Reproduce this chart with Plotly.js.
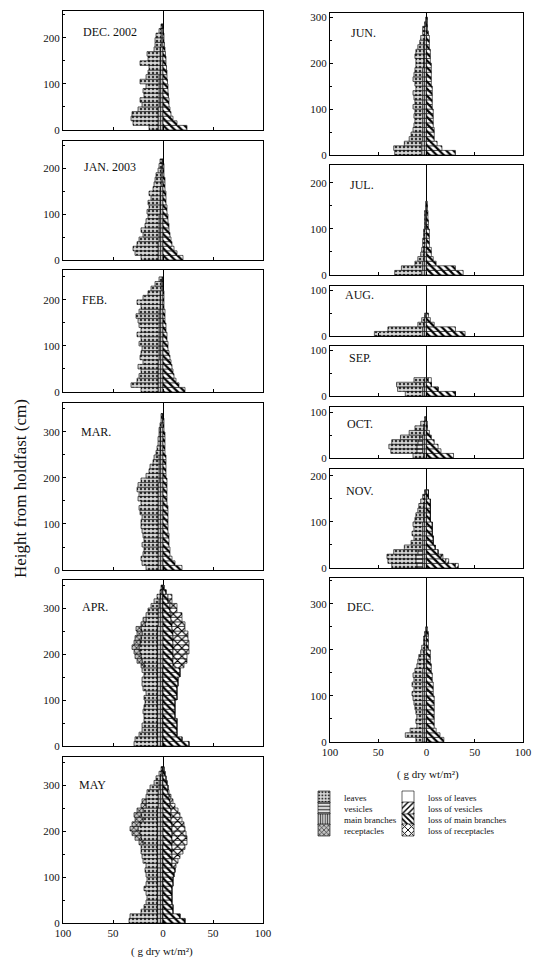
<!DOCTYPE html>
<html><head><meta charset="utf-8">
<script src="https://cdn.plot.ly/plotly-3.0.1.min.js"></script>
<style>html,body{margin:0;padding:0;background:#fff}#chart{width:534px;height:965px}</style>
</head><body><div id="chart"></div>
<script>
// Height classes are 10 cm wide, counted upward from the holdfast.
const BIN = 10;
const monthLabels = ['DEC. 2002','JAN. 2003','FEB.','MAR.','APR.','MAY','JUN.','JUL.','AUG.','SEP.','OCT.','NOV.','DEC.'];
const xTickVals = [-100,-50,0,50,100];
const xTickText = ['100','50','0','50','100'];

// ---- DEC. 2002 ----
const dec02Branches = [5,5,5,5,5,4,4,4,4,4,4,4,3,3,3,3,3,3,2,2,2,2,1];
const dec02Leaves   = [9,25,27,26,20,17,19,15,16,13,19,13,12,11,20,12,13,6,6,6,5,2,1];
const dec02LossBr   = [24,14,10,8,7,6,6,5.5,5,5,4.5,4,4,3.5,3,3,2.5,2,1.5,1,1,0.5,0];
// ---- JAN. 2003 ----
const jan03Branches = [5,5,5,5,4,4,4,4,4,4,3,3,3,3,3,3,2,2,2,2,1,1];
const jan03Leaves   = [17,23,25,21,20,16,18,14,13,11,13,11,12,9,11,7,7,6,5,3,3,2];
const jan03LossBr   = [20,14,11,9,8,7,6,6,5,5,4,4,3,3,3,2,2,2,1,1,1,0];
// ---- FEB. ----
const febBranches = [5,5,5,5,5,5,5,4,4,4,4,4,4,4,4,4,4,4,3,3,3,3,2,2,1];
const febLeaves   = [17,27,21,19,17,20,15,19,18,17,20,18,22,18,20,21,23,20,19,23,17,12,10,6,3];
const febLossBr   = [22,16,13,11,10,9,8,7,6,5,5,4,4,3,3,2,2,2,1,1,1,1,0,0,0];
// ---- MAR. ----
const marBranches = [5,5,5,5,5,5,5,5,5,5,5,5,5,5,5,5,5,5,5,4,4,4,4,4,4,3,3,3,3,3,3,2,2,1];
const marLeaves   = [12,16,17,15,14,16,14,15,16,17,17,16,18,19,17,20,19,21,20,18,13,10,9,6,5,4,3,2,2,1,1,1,0,1];
const marLossBr   = [19,12,9,7,7,6,6,6,5,5,5,5,5,5,4,4,4,4,4,4,3,3,3,3,3,2,2,2,2,2,1,1,1,0];
// ---- APR. ----
const aprBranches = [6,6,6,6,6,6,6,6,6,6,6,6,6,6,6,6,6,6,6,6,6,6,6,6,6,6,5,5,5,5,4,4,3,2,1];
const aprLeaves   = [23,22,18,15,15,13,13,14,13,12,13,11,14,15,15,13,15,13,15,16,17,18,17,16,15,16,13,12,12,10,8,5,3,1,1];
const aprRecept   = [0,0,0,0,0,0,0,0,0,0,0,0,0,0,0,0,0,3,5,6,6,7,6,6,5,5,4,3,0,0,0,0,0,0,0];
const aprLossBr   = [26,19,14,14,14,14,12,12,12,12,14,14,14,15,15,17,17,10,10,10,10,10,10,10,10,9,9,8,8,7,7,5,5,3,1];
const aprLossRec  = [0,0,0,0,0,0,0,0,0,0,0,0,0,0,0,0,0,11,14,14,16,16,16,15,15,13,13,11,11,7,7,4,4,0,0];
// ---- MAY ----
const mayBranches = [6,6,6,6,6,6,6,6,6,6,6,6,6,6,6,6,6,6,6,6,6,6,6,6,6,5,5,5,5,4,4,3,2,1];
const mayLeaves   = [28,27,16,13,11,10,11,13,11,10,11,12,11,14,15,16,16,14,16,17,19,17,14,16,14,12,12,12,11,9,5,4,2,1];
const mayRecept   = [0,0,0,0,0,0,0,0,0,0,0,0,0,0,0,0,0,4,6,8,8,8,8,7,6,5,4,0,0,0,0,0,0,0];
const mayLossBr   = [22,17,10,10,9,9,9,9,10,10,11,12,9,9,9,9,9,9,9,9,9,9,8,8,8,7,7,6,5,5,4,3,2,1];
const mayLossRec  = [0,0,0,0,0,0,0,0,0,0,0,0,4,6,8,11,13,15,15,14,13,12,11,9,7,5,3,2,1,0,0,0,0,0];
// ---- JUN. ----
const junBranches = [5,5,5,4,4,4,4,4,4,4,4,4,4,4,4,4,4,4,4,3,3,3,3,3,3,2,2,2,1,1];
const junLeaves   = [28,29,18,14,12,10,9,8,9,8,10,8,9,10,7,8,10,9,8,8,8,9,8,6,4,4,2,2,1,0];
const junLossBr   = [30,16,11,8,8,8,7,7,7,7,6,6,6,6,6,5,5,5,5,5,4,4,4,3,3,3,2,1,1,1];
// ---- JUL. ----
const julBranches = [5,4,4,3,3,3,2,2,2,2,1,1,1,1,1,1];
const julLeaves   = [28,22,8,6,3,2,2,2,1,1,1,1,1,1,0,0];
const julLossBr   = [38,30,10,7,5,5,3,3,3,3,2,2,1.5,1.5,1,1];
// ---- AUG. ----
const augBranches = [4,4,3,2,1];
const augLeaves   = [50,36,6,3,1];
const augLossBr   = [40,30,8,4,2];
// ---- SEP. ----
const sepBranches   = [4,4,3,2];
const sepLeaves     = [18,26,28,11];
const sepLossBr     = [30,12,5,2];
const sepLossLeaves = [0,0,0,3];
// ---- OCT. ----
const octBranches = [3,4,4,4,4,3,3,2,1];
const octVesicles = [0,6,6,5,3,0,0,0,0];
const octLeaves   = [11,27,29,27,20,15,9,4,1];
const octLossBr   = [28,15,12,8,5,3,1,1,0];
// ---- NOV. ----
const novBranches = [4,4,4,4,4,4,4,4,4,4,3,3,3,3,2,2,1];
const novVesicles = [6,7,7,5,0,0,0,0,0,0,0,0,0,0,0,0,0];
const novLeaves   = [26,29,30,25,19,12,9,11,9,10,9,8,6,5,4,2,1];
const novLossBr   = [30,20,15,12,9,7,7,6,6,6,4,4,4,4,4,2,2];
const novLossVes  = [3,3,2,0,0,0,0,0,0,0,0,0,0,0,0,0,0];
// ---- DEC. ----
const decBranches = [4,4,4,4,4,4,4,4,4,4,4,4,4,4,4,4,3,3,3,3,2,2,2,1,1];
const decLeaves   = [7,18,13,6,7,6,7,8,9,10,11,9,11,9,10,8,7,6,5,3,3,1,1,1,0];
const decLossBr   = [18,14,10,8,8,8,8,8,8,8,7,7,7,6,6,5,5,4,4,4,2,2,2,2,1];

const panelData = [
  {branches:dec02Branches, leaves:dec02Leaves, lossBr:dec02LossBr},
  {branches:jan03Branches, leaves:jan03Leaves, lossBr:jan03LossBr},
  {branches:febBranches, leaves:febLeaves, lossBr:febLossBr},
  {branches:marBranches, leaves:marLeaves, lossBr:marLossBr},
  {branches:aprBranches, leaves:aprLeaves, recept:aprRecept, lossBr:aprLossBr, lossRec:aprLossRec},
  {branches:mayBranches, leaves:mayLeaves, recept:mayRecept, lossBr:mayLossBr, lossRec:mayLossRec},
  {branches:junBranches, leaves:junLeaves, lossBr:junLossBr},
  {branches:julBranches, leaves:julLeaves, lossBr:julLossBr},
  {branches:augBranches, leaves:augLeaves, lossBr:augLossBr},
  {branches:sepBranches, leaves:sepLeaves, lossBr:sepLossBr, lossLeaves:sepLossLeaves},
  {branches:octBranches, vesicles:octVesicles, leaves:octLeaves, lossBr:octLossBr},
  {branches:novBranches, vesicles:novVesicles, leaves:novLeaves, lossBr:novLossBr, lossVes:novLossVes},
  {branches:decBranches, leaves:decLeaves, lossBr:decLossBr}
];

// ---------- styles / layout ----------
const W = 534, H = 965;
const FONT = 'Liberation Serif, Times New Roman, serif';
const LX1 = 304, LX2 = 388;
const series = [
  {key:'branches', name:'main branches', side:-1, legend:'legend3', lx:LX1, ly:819, color:'#bdbdbd', pattern:{shape:'|', fgcolor:'#333', bgcolor:'#c4c4c4', size:3, solidity:0.3}},
  {key:'vesicles', name:'vesicles', side:-1, legend:'legend2', lx:LX1, ly:808, color:'#e0e0e0', pattern:{shape:'-', fgcolor:'#222', bgcolor:'#e4e4e4', size:4, solidity:0.35}},
  {key:'leaves', name:'leaves', side:-1, legend:'legend', lx:LX1, ly:797, color:'#d4d4d4', pattern:{shape:'.', fgcolor:'#333', bgcolor:'#d8d8d8', size:4, solidity:0.35}},
  {key:'recept', name:'receptacles', side:-1, legend:'legend4', lx:LX1, ly:830, color:'#bbb', pattern:{shape:'x', fgcolor:'#000', bgcolor:'#c4c4c4', size:4, solidity:0.3}},
  {key:'lossBr', name:'loss of main branches', side:1, legend:'legend7', lx:LX2, ly:819, color:'#fff', pattern:{shape:'\\', fgcolor:'#000', bgcolor:'#fff', size:5, solidity:0.45}},
  {key:'lossVes', name:'loss of vesicles', side:1, legend:'legend6', lx:LX2, ly:808, color:'#fff', pattern:{shape:'/', fgcolor:'#000', bgcolor:'#fff', size:5, solidity:0.35}},
  {key:'lossLeaves', name:'loss of leaves', side:1, legend:'legend5', lx:LX2, ly:797, color:'#fff', pattern:{shape:'', fgcolor:'#000', bgcolor:'#fff', size:5, solidity:0.3}},
  {key:'lossRec', name:'loss of receptacles', side:1, legend:'legend8', lx:LX2, ly:830, color:'#fff', pattern:{shape:'x', fgcolor:'#000', bgcolor:'#fff', size:6, solidity:0.35}}
];
// panel frames in pixels
const geom = [
  {col:0, top:11,  bot:130, ymax:258, lx:81,  ly:32},
  {col:0, top:141, bot:260, ymax:259, lx:82,  ly:167},
  {col:0, top:270, bot:392, ymax:265, lx:80,  ly:300},
  {col:0, top:403, bot:570, ymax:363, lx:79,  ly:432},
  {col:0, top:580, bot:746, ymax:361, lx:80,  ly:607},
  {col:0, top:757, bot:923, ymax:361, lx:77,  ly:785},
  {col:1, top:13,  bot:155, ymax:309, lx:349, ly:33},
  {col:1, top:165, bot:275, ymax:239, lx:348, ly:185},
  {col:1, top:286, bot:336, ymax:109, lx:343, ly:295},
  {col:1, top:346, bot:396, ymax:109, lx:347, ly:358},
  {col:1, top:407, bot:458, ymax:111, lx:345, ly:424},
  {col:1, top:469, bot:568, ymax:215, lx:344, ly:491},
  {col:1, top:578, bot:742, ymax:356, lx:345, ly:607}
];
const colX = [[63,263],[330,523]];
const bottomPanels = [5,12];

const traces = [];
const layout = {
  width:W, height:H, margin:{l:0,r:0,t:0,b:0},
  paper_bgcolor:'#fff', plot_bgcolor:'#fff',
  barmode:'relative', bargap:0, showlegend:true,
  font:{family:FONT, color:'#111', size:11},
  annotations:[]
};
const seen = {};

panelData.forEach((d,i)=>{
  const g = geom[i];
  const ax = i===0 ? '' : String(i+1);
  series.forEach(s=>{
    const vals = d[s.key];
    if(!vals) return;
    const first = !seen[s.key];
    seen[s.key] = true;
    traces.push({
      type:'bar', orientation:'h', xaxis:'x'+ax, yaxis:'y'+ax,
      y: vals.map((_,k)=>k*BIN + BIN/2),
      x: vals.map(v=>s.side*v),
      width: BIN, name:s.name, legend:s.legend,
      marker:{color:s.color, line:{color:'#000', width:0.6}, pattern:s.pattern},
      showlegend:first, hoverinfo:'skip'
    });
  });
  const bottom = bottomPanels.includes(i);
  layout['xaxis'+ax] = {
    domain:[colX[g.col][0]/W, colX[g.col][1]/W], range:[-100,100], anchor:'y'+ax,
    showline:true, mirror:true, linecolor:'#000', linewidth:1,
    zeroline:true, zerolinecolor:'#000', zerolinewidth:1, showgrid:false,
    tickvals:xTickVals, ticktext:xTickText, ticks:'inside', ticklen:3, tickcolor:'#000',
    showticklabels:bottom, tickfont:{family:FONT, size:11, color:'#111'}, fixedrange:true
  };
  layout['yaxis'+ax] = {
    domain:[1-g.bot/H, 1-g.top/H], range:[0,g.ymax], anchor:'x'+ax,
    showline:true, mirror:true, linecolor:'#000', linewidth:1,
    zeroline:false, showgrid:false, tick0:0, dtick:100,
    ticks:'inside', ticklen:3, tickcolor:'#000',
    minor:{dtick:50, ticks:'inside', ticklen:2, tickcolor:'#000'},
    tickfont:{family:FONT, size:11, color:'#111'}, fixedrange:true
  };
  layout.annotations.push({
    text:monthLabels[i], xref:'paper', yref:'paper', x:g.lx/W, y:1-g.ly/H,
    xanchor:'left', yanchor:'middle', showarrow:false,
    font:{family:FONT, size:12, color:'#111'}
  });
});

// one legend per entry, arranged in two columns of four
series.forEach(s=>{
  layout[s.legend] = {
    x:s.lx/W, y:1-s.ly/H, xanchor:'left', yanchor:'middle',
    bgcolor:'rgba(0,0,0,0)', borderwidth:0, itemwidth:30,
    font:{family:FONT, size:9, color:'#111'}, itemclick:false, itemdoubleclick:false
  };
});

layout.annotations.push(
  {text:'Height from holdfast (cm)', xref:'paper', yref:'paper', x:20/W, y:1-489/H,
   textangle:-90, showarrow:false, xanchor:'center', yanchor:'middle',
   font:{family:FONT, size:17, color:'#111'}},
  {text:'( g dry wt/m²)', xref:'paper', yref:'paper', x:162/W, y:1-951/H,
   showarrow:false, xanchor:'center', yanchor:'middle', font:{family:FONT, size:11, color:'#111'}},
  {text:'( g dry wt/m²)', xref:'paper', yref:'paper', x:428/W, y:1-774/H,
   showarrow:false, xanchor:'center', yanchor:'middle', font:{family:FONT, size:11, color:'#111'}}
);

Plotly.newPlot('chart', traces, layout, {displayModeBar:false, staticPlot:true});
</script>
</body></html>
